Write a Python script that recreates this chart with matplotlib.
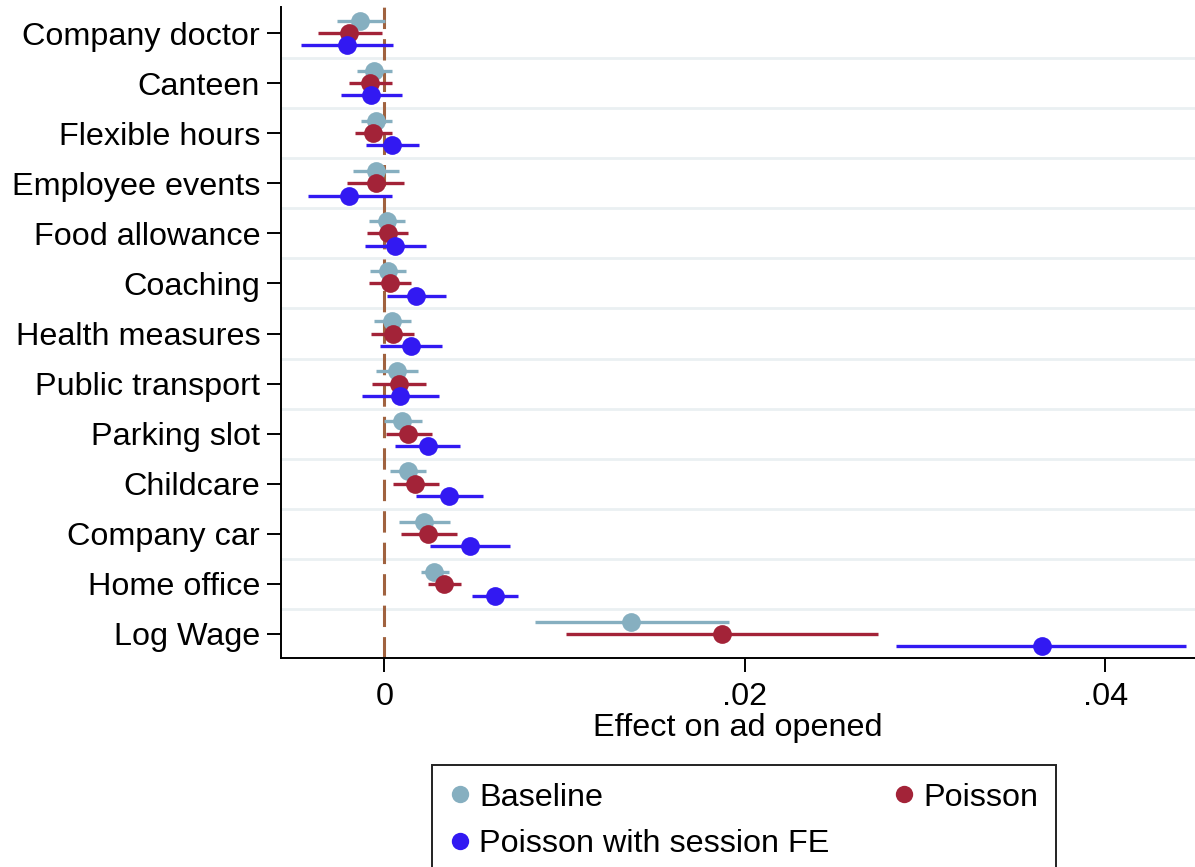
import numpy as np
import matplotlib
matplotlib.use("Agg")
import matplotlib.pyplot as plt
from matplotlib.lines import Line2D

plt.rcParams['font.family'] = ['Liberation Sans', 'DejaVu Sans']

categories = ["Company doctor", "Canteen", "Flexible hours", "Employee events",
              "Food allowance", "Coaching", "Health measures", "Public transport",
              "Parking slot", "Childcare", "Company car", "Home office", "Log Wage"]

# point estimates and 95% confidence bounds
baseline_est = [-0.00135, -0.00057, -0.00046, -0.00046, 0.00013, 0.00019, 0.00041,
                0.00069, 0.00100, 0.00128, 0.00220, 0.00277, 0.01368]
baseline_lo = [-0.00264, -0.00153, -0.00131, -0.00175, -0.00083, -0.00079, -0.00057,
               -0.00046, 0.00000, 0.00032, 0.00078, 0.00204, 0.00834]
baseline_hi = [0.00004, 0.00041, 0.00041, 0.00083, 0.00115, 0.00119, 0.00146,
               0.00185, 0.00207, 0.00230, 0.00364, 0.00359, 0.01913]

poisson_est = [-0.00194, -0.00079, -0.00061, -0.00048, 0.00017, 0.00028, 0.00047,
               0.00078, 0.00133, 0.00170, 0.00244, 0.00333, 0.01871]
poisson_lo = [-0.00366, -0.00194, -0.00163, -0.00209, -0.00098, -0.00085, -0.00074,
              -0.00067, 0.00009, 0.00047, 0.00091, 0.00244, 0.01006]
poisson_hi = [-0.00014, 0.00041, 0.00041, 0.00111, 0.00133, 0.00146, 0.00166,
              0.00230, 0.00263, 0.00300, 0.00402, 0.00425, 0.02737]

fe_est = [-0.00209, -0.00075, 0.00044, -0.00194, 0.00059, 0.00176, 0.00148,
          0.00087, 0.00239, 0.00359, 0.00475, 0.00614, 0.03647]
fe_lo = [-0.00462, -0.00242, -0.00101, -0.00425, -0.00107, 0.00013, -0.00024,
         -0.00125, 0.00059, 0.00176, 0.00254, 0.00485, 0.02838]
fe_hi = [0.00047, 0.00097, 0.00189, 0.00041, 0.00230, 0.00342, 0.00322,
         0.00305, 0.00420, 0.00544, 0.00697, 0.00743, 0.04449]

series = [
    ("Baseline", baseline_est, baseline_lo, baseline_hi, "#86AFC0", -0.245),
    ("Poisson", poisson_est, poisson_lo, poisson_hi, "#A32338", 0.0),
    ("Poisson with session FE", fe_est, fe_lo, fe_hi, "#3219F2", 0.245),
]

fig = plt.figure(figsize=(11.95, 8.67), dpi=100)
ax = fig.add_axes([281 / 1195, 1 - 658 / 867, 1 - 281 / 1195, (658 - 7) / 867])

pos = np.arange(len(categories))

ax.axvline(0, color="#A0623F", lw=2.2, dashes=(7, 3.3), zorder=1)

for name, est, lo, hi, col, off in series:
    est = np.asarray(est)
    lo = np.asarray(lo)
    hi = np.asarray(hi)
    ax.errorbar(est, pos + off, xerr=[est - lo, hi - est], fmt="o", color=col,
                ecolor=col, elinewidth=2.4, capsize=0, markersize=13.5,
                markeredgewidth=0, zorder=3)

ax.set_yticks(pos)
ax.set_yticklabels(categories)
ax.set_yticks(pos[:-1] + 0.5, minor=True)
ax.grid(which="minor", axis="y", color="#EAF0F2", lw=2.0)
ax.tick_params(axis="y", which="minor", length=0)
ax.set_ylim(len(categories) - 1 + 0.48, -0.52)

ax.set_xlim(-0.00574, 0.04497)
ax.set_xticks([0, 0.02, 0.04])
ax.set_xticklabels(["0", ".02", ".04"])
ax.set_xlabel("Effect on ad opened", fontsize=23.3, labelpad=1)

ax.tick_params(axis="both", which="major", labelsize=23.3, length=10, width=1.4,
               color="black", pad=5)
ax.tick_params(axis="x", pad=7)
for s in ["top", "right"]:
    ax.spines[s].set_visible(False)
for s in ["left", "bottom"]:
    ax.spines[s].set_linewidth(1.4)
    ax.spines[s].set_color("black")
ax.set_axisbelow(True)

handles = [Line2D([], [], ls="none", marker="o", markersize=12.5, markeredgewidth=0,
                  color=col) for _, _, _, _, col, _ in series]
labels = [s[0] for s in series]
order = [0, 2, 1]
leg = fig.legend([handles[i] for i in order], [labels[i] for i in order],
                 loc="upper left", ncol=2, mode="expand",
                 bbox_to_anchor=(432 / 1195, 1 - 765 / 867, (1056 - 432) / 1195, 0.0),
                 bbox_transform=fig.transFigure, fontsize=23.3, frameon=True,
                 fancybox=False, shadow=False, framealpha=1, edgecolor="#222222",
                 handlelength=0.6, handletextpad=0.3, borderpad=0.55,
                 labelspacing=0.5, columnspacing=1.0, borderaxespad=0)
leg.get_frame().set_linewidth(1.4)

fig.savefig("out.png", dpi=100)
